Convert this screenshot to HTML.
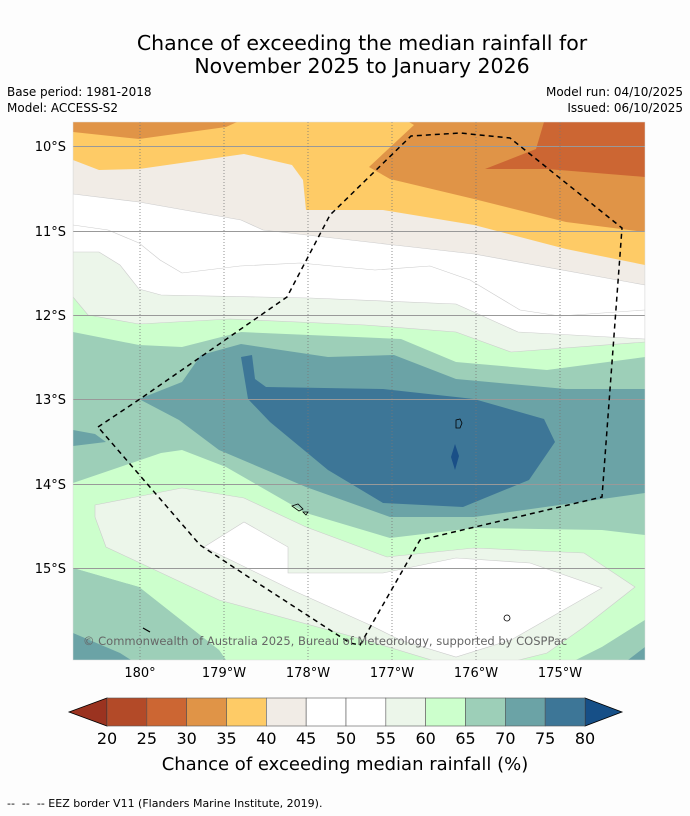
<!DOCTYPE html>
<html><head><meta charset="utf-8">
<style>
body{margin:0;background:#fdfdfd;width:690px;height:816px;overflow:hidden;font-family:"DejaVu Sans","Liberation Sans",sans-serif;}
svg{position:absolute;left:0;top:0;font-family:"DejaVu Sans","Liberation Sans",sans-serif;}
</style></head>
<body>
<svg width="690" height="816" xmlns="http://www.w3.org/2000/svg">
<text x="362" y="50" font-size="20.5" text-anchor="middle" fill="#000">Chance of exceeding the median rainfall for</text>
<text x="362" y="73" font-size="20.5" text-anchor="middle" fill="#000">November 2025 to January 2026</text>
<text x="7" y="96" font-size="12">Base period: 1981-2018</text>
<text x="7" y="112" font-size="12">Model: ACCESS-S2</text>
<text x="683" y="96" font-size="12" text-anchor="end">Model run: 04/10/2025</text>
<text x="683" y="112" font-size="12" text-anchor="end">Issued: 06/10/2025</text>

<defs><clipPath id="mc"><rect x="73" y="122" width="572" height="538"/></clipPath></defs>
<g clip-path="url(#mc)">
<rect x="73" y="122" width="572" height="538" fill="#9dcfb8"/>
<polygon fill="#ccffcc" points="73,122 645,122 645,357 547,370 456,362 401,339 241,332 182,347 139,345 73,332"/>
<polygon fill="#6ba3a6" points="139,399 182,382 201,355 241,344 328,357 394,355 456,379 566,389 645,389 645,493 474,517 390,517 306,487 219,450 179,420"/>
<polygon fill="#6ba3a6" points="73,430 95,434 106,442 73,446"/>
<polygon fill="#3d7697" points="241,357 252,355 255,379 266,387 383,389 474,399 544,419 555,442 529,480 463,507 383,503 328,470 270,422 248,399"/>
<polygon fill="#ccffcc" points="73,483 161,453 182,450 226,467 306,513 390,538 474,528 602,530 645,535 645,620 602,647 576,660 226,660 219,650 139,587 73,568"/>
<polygon fill="#ecf6ea" stroke="#ccc" stroke-width="0.6" points="95,505 182,488 244,498 306,527 387,557 474,548 584,553 635,587 584,627 547,653 511,662 438,662 365,640 219,600 106,547 95,517"/>
<polygon fill="#ffffff" stroke="#ccc" stroke-width="0.6" points="204,547 244,522 288,547 288,573 383,573 456,558 530,563 602,588 560,612 511,640 456,657 400,640 370,625 292,590"/>
<polygon fill="#9dcfb8" points="73,568 139,587 219,650 226,660 73,660"/>
<polygon fill="#6ba3a6" points="73,633 120,653 131,660 73,660"/>
<polygon fill="#9dcfb8" points="645,620 602,647 576,660 645,660"/>
<polygon fill="#6ba3a6" points="645,647 628,660 645,660"/>
<polygon fill="#ecf6ea" stroke="#ccc" stroke-width="0.6" points="73,122 645,122 645,342 511,352 456,332 365,325 230,319 139,324 88,315 73,297"/>
<polygon fill="#ffffff" stroke="#ccc" stroke-width="0.6" points="73,122 645,122 645,339 518,332 456,304 310,298 161,295 139,289 120,265 99,252 73,252"/>
<polyline fill="none" stroke="#ccc" stroke-width="0.6" points="73,225 108,230 139,243 160,260 182,273 240,266 300,263 375,270 430,266 470,280 520,310 560,316 645,310"/>
<polygon fill="#f1ece6" stroke="#ccc" stroke-width="0.6" points="73,122 645,122 645,285 474,254 394,245 263,230 241,220 139,202 73,194"/>
<polygon fill="#fecb66" points="73,122 645,122 645,265 566,249 474,225 383,210 306,210 303,180 292,165 244,154 139,169 99,170 73,160"/>
<polygon fill="#e09447" points="73,122 237,122 226,127 139,139 73,132"/>
<polygon fill="#e09447" points="409,122 645,122 645,232 566,222 474,199 390,179 369,167 414,125"/>
<polygon fill="#cc6633" points="544,122 645,122 645,177 584,172 547,169 485,169 536,149"/>
<g stroke="#999" stroke-width="1">
<line x1="73" x2="645" y1="146.5" y2="146.5"/><line x1="73" x2="645" y1="231.5" y2="231.5"/><line x1="73" x2="645" y1="315.5" y2="315.5"/><line x1="73" x2="645" y1="399.5" y2="399.5"/><line x1="73" x2="645" y1="484.5" y2="484.5"/><line x1="73" x2="645" y1="568.5" y2="568.5"/>
</g>
<g stroke="#777" stroke-width="0.8" stroke-dasharray="1,2">
<line x1="140" x2="140" y1="122" y2="660"/><line x1="224" x2="224" y1="122" y2="660"/><line x1="308" x2="308" y1="122" y2="660"/><line x1="392" x2="392" y1="122" y2="660"/><line x1="476" x2="476" y1="122" y2="660"/><line x1="560" x2="560" y1="122" y2="660"/>
</g>
<path d="M456,420 l4,-1 l2,4 l-2,5 l-4,0 z" fill="none" stroke="#000" stroke-width="0.8"/>
<path d="M455,444 l4,12 l-4,14 l-4,-13 z" fill="#1a4f87"/>
<path d="M292,506 l6,-2 l5,5 l-4,2 z M303,512 l5,0 l-2,3 z" fill="none" stroke="#000" stroke-width="0.8"/>
<circle cx="507" cy="618" r="3" fill="none" stroke="#000" stroke-width="0.8"/>
<line x1="143" y1="628" x2="150" y2="632" stroke="#000" stroke-width="1.2"/>
<polyline fill="none" stroke="#000" stroke-width="1.5" stroke-dasharray="5,4" points="98,427 140,399 287,297 330,215 411,136 460,133 510,138 622,228 602,497 420,540 360,645 350,643 250,578 200,545 98,427"/>
<text x="83" y="645" font-size="11.5" fill="#666">© Commonwealth of Australia 2025, Bureau of Meteorology, supported by COSPPac</text>
</g>
<rect x="73" y="122" width="572" height="538" fill="none" stroke="#ddd" stroke-width="0.5"/>
<g font-size="13" fill="#000">
<text x="66" y="151" text-anchor="end">10°S</text><text x="66" y="236" text-anchor="end">11°S</text><text x="66" y="320" text-anchor="end">12°S</text><text x="66" y="404" text-anchor="end">13°S</text><text x="66" y="489" text-anchor="end">14°S</text><text x="66" y="573" text-anchor="end">15°S</text>
</g>
<g font-size="13" fill="#000" text-anchor="middle">
<text x="140" y="677">180°</text><text x="224" y="677">179°W</text><text x="308" y="677">178°W</text><text x="392" y="677">177°W</text><text x="476" y="677">176°W</text><text x="560" y="677">175°W</text>
</g>
<g id="cbar"></g>
<text x="345" y="770" font-size="18" text-anchor="middle">Chance of exceeding median rainfall (%)</text>
<text x="7" y="807" font-size="11">-- &#160;-- &#160;-- EEZ border V11 (Flanders Marine Institute, 2019).</text>
</svg>
<script>
const levels=[20,25,30,35,40,45,50,55,60,65,70,75,80];
const binColors=["#b34a28","#cc6633","#e09447","#fecb66","#f1ece6","#ffffff","#ffffff","#ecf6ea","#ccffcc","#9dcfb8","#6ba3a6","#3d7697"];
const underColor="#9b3320", overColor="#164f87";
const cb=document.getElementById('cbar');
const NS='http://www.w3.org/2000/svg';
const x0=107,x1=585,y0=698,y1=726;
function sx(v){return x0+(v-levels[0])/(levels[levels.length-1]-levels[0])*(x1-x0);}
function mk(t,a){const e=document.createElementNS(NS,t);for(const k in a)e.setAttribute(k,a[k]);cb.appendChild(e);return e;}
let t1=mk('polygon',{points:`${x0},${y0} 69,${(y0+y1)/2} ${x0},${y1}`,fill:underColor,stroke:'#000','stroke-width':0.8});


let t2=mk('polygon',{points:`${x1},${y0} 622,${(y0+y1)/2} ${x1},${y1}`,fill:overColor,stroke:'#000','stroke-width':0.8});


for(let i=0;i<binColors.length;i++){
  const r=mk('rect',{x:sx(levels[i]),y:y0,width:sx(levels[i+1])-sx(levels[i]),height:y1-y0,fill:binColors[i],stroke:'#555','stroke-width':0.6});
  
  
}
for(let i=0;i<levels.length;i++){
  const t=mk('text',{x:sx(levels[i]),y:744,'font-size':16,'text-anchor':'middle',fill:'#000'});
  t.textContent=levels[i];
  
  
}
</script>
</body></html>
